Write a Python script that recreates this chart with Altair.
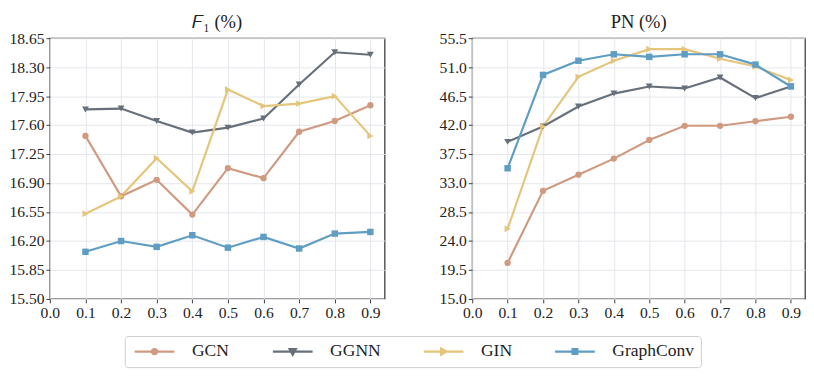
import altair as alt
import pandas as pd

ratios = [0.1, 0.2, 0.3, 0.4, 0.5, 0.6, 0.7, 0.8, 0.9]
models = ["GCN", "GGNN", "GIN", "GraphConv"]
colors = ["#d09a80", "#67707a", "#e5c47c", "#5f9dc3"]
shapes = ["circle", "triangle-down", "triangle-right", "square"]

f1_gcn = [17.47, 16.74, 16.94, 16.52, 17.08, 16.96, 17.52, 17.65, 17.84]
f1_ggnn = [17.79, 17.80, 17.65, 17.51, 17.57, 17.68, 18.09, 18.48, 18.45]
f1_gin = [16.53, 16.74, 17.20, 16.80, 18.03, 17.83, 17.86, 17.95, 17.47]
f1_graphconv = [16.07, 16.20, 16.13, 16.27, 16.12, 16.25, 16.11, 16.29, 16.31]

pn_gcn = [20.6, 31.8, 34.3, 36.8, 39.7, 41.9, 41.9, 42.6, 43.3]
pn_ggnn = [39.4, 41.8, 44.9, 46.9, 48.0, 47.7, 49.4, 46.2, 48.0]
pn_gin = [25.9, 41.8, 49.5, 52.0, 53.8, 53.8, 52.3, 51.1, 49.0]
pn_graphconv = [35.3, 49.8, 52.0, 53.0, 52.6, 53.0, 53.0, 51.4, 48.0]

f1_ticks = [15.50, 15.85, 16.20, 16.55, 16.90, 17.25, 17.60, 17.95, 18.30, 18.65]
pn_ticks = [15.0, 19.5, 24.0, 28.5, 33.0, 37.5, 42.0, 46.5, 51.0, 55.5]
x_ticks = [0.0, 0.1, 0.2, 0.3, 0.4, 0.5, 0.6, 0.7, 0.8, 0.9]

# legend symbols: a line segment with a small marker in its middle
legend_paths = [
    "M-1,0L6,0M2.04,0A0.46,0.46 0 1,0 2.96,0A0.46,0.46 0 1,0 2.04,0Z",
    "M-1,0L6,0M1.95,-0.45L3.05,-0.45L2.5,0.55Z",
    "M-1,0L6,0M2.05,-0.55L3.05,0L2.05,0.55Z",
    "M-1,0L6,0M2.07,-0.43L2.93,-0.43L2.93,0.43L2.07,0.43Z",
]

FONT = "Liberation Serif"


def make_df(series):
    rows = []
    for m, vals in zip(models, series):
        for r, v in zip(ratios, vals):
            rows.append({"ratio": r, "value": v, "model": m})
    return pd.DataFrame(rows)


f1_df = make_df([f1_gcn, f1_ggnn, f1_gin, f1_graphconv])
pn_df = make_df([pn_gcn, pn_ggnn, pn_gin, pn_graphconv])

legend = alt.Legend(
    title=None,
    orient="none",
    legendX=77,
    legendY=306,
    direction="horizontal",
    columns=4,
    symbolSize=136,
    symbolStrokeWidth=2.2,
    symbolOpacity=1,
    labelOffset=44,
    columnPadding=39,
    labelFont=FONT,
    labelFontSize=18,
    labelColor="#222222",
    padding=7,
    strokeColor="#cccccc",
    cornerRadius=3,
    fillColor="white",
)


def panel(df, title, ticks, fmt, with_legend, width):
    base = alt.Chart(df)
    x = alt.X(
        "ratio:Q",
        scale=alt.Scale(domain=[0, 0.94], nice=False, zero=False),
        axis=alt.Axis(values=x_ticks, format=".1f", title=None),
    )
    y = alt.Y(
        "value:Q",
        scale=alt.Scale(domain=[ticks[0], ticks[-1]], nice=False, zero=False),
        axis=alt.Axis(values=ticks, format=fmt, title=None),
    )
    layers = []
    for m, c, s in zip(models, colors, shapes):
        sub = base.transform_filter(alt.datum.model == m)
        layers.append(sub.mark_line(strokeWidth=2.2, color=c).encode(x=x, y=y))
    for m, c, s in zip(models, colors, shapes):
        size = 42 if s == "circle" else (44 if s == "square" else 50)
        sub = base.transform_filter(alt.datum.model == m)
        layers.append(
            sub.mark_point(shape=s, filled=True, size=size, opacity=1, color=c).encode(x=x, y=y)
        )
    if with_legend:
        layers.append(
            base.mark_point(filled=True, opacity=0, size=136, strokeWidth=2.2).encode(
                x=x,
                y=y,
                color=alt.Color("model:N", scale=alt.Scale(domain=models, range=colors), legend=legend),
                stroke=alt.Stroke("model:N", scale=alt.Scale(domain=models, range=colors), legend=legend),
                shape=alt.Shape(
                    "model:N",
                    scale=alt.Scale(domain=models, range=legend_paths),
                    legend=legend,
                ),
            )
        )
    return alt.layer(*layers).properties(
        width=width,
        height=268,
        title=alt.Title(title, font=FONT, fontSize=19, fontWeight="normal", color="#222222", offset=-2),
    )


left = panel(f1_df, "𝐹₁ (%)", f1_ticks, ".2f", True, 344)
right = panel(pn_df, "PN (%)", pn_ticks, ".1f", False, 342)

chart = (
    alt.hconcat(left, right, spacing=34)
    .properties(padding={"left": 0, "top": 0, "right": 0, "bottom": 0})
    .configure_view(stroke="#3c3c3c", strokeWidth=1.3)
    .configure_axis(
        domain=False,
        grid=True,
        gridColor="#e4e6eb",
        gridWidth=1,
        ticks=True,
        tickColor="#3c3c3c",
        tickSize=4,
        tickWidth=1,
        labelFont=FONT,
        labelFontSize=16,
        labelColor="#222222",
        labelPadding=2,
        labelFlush=False,
    )
    .configure_legend(labelFont=FONT, labelFontSize=18, labelColor="#222222")
)

chart.save("out.html", embed_options={"renderer": "svg", "actions": False})
